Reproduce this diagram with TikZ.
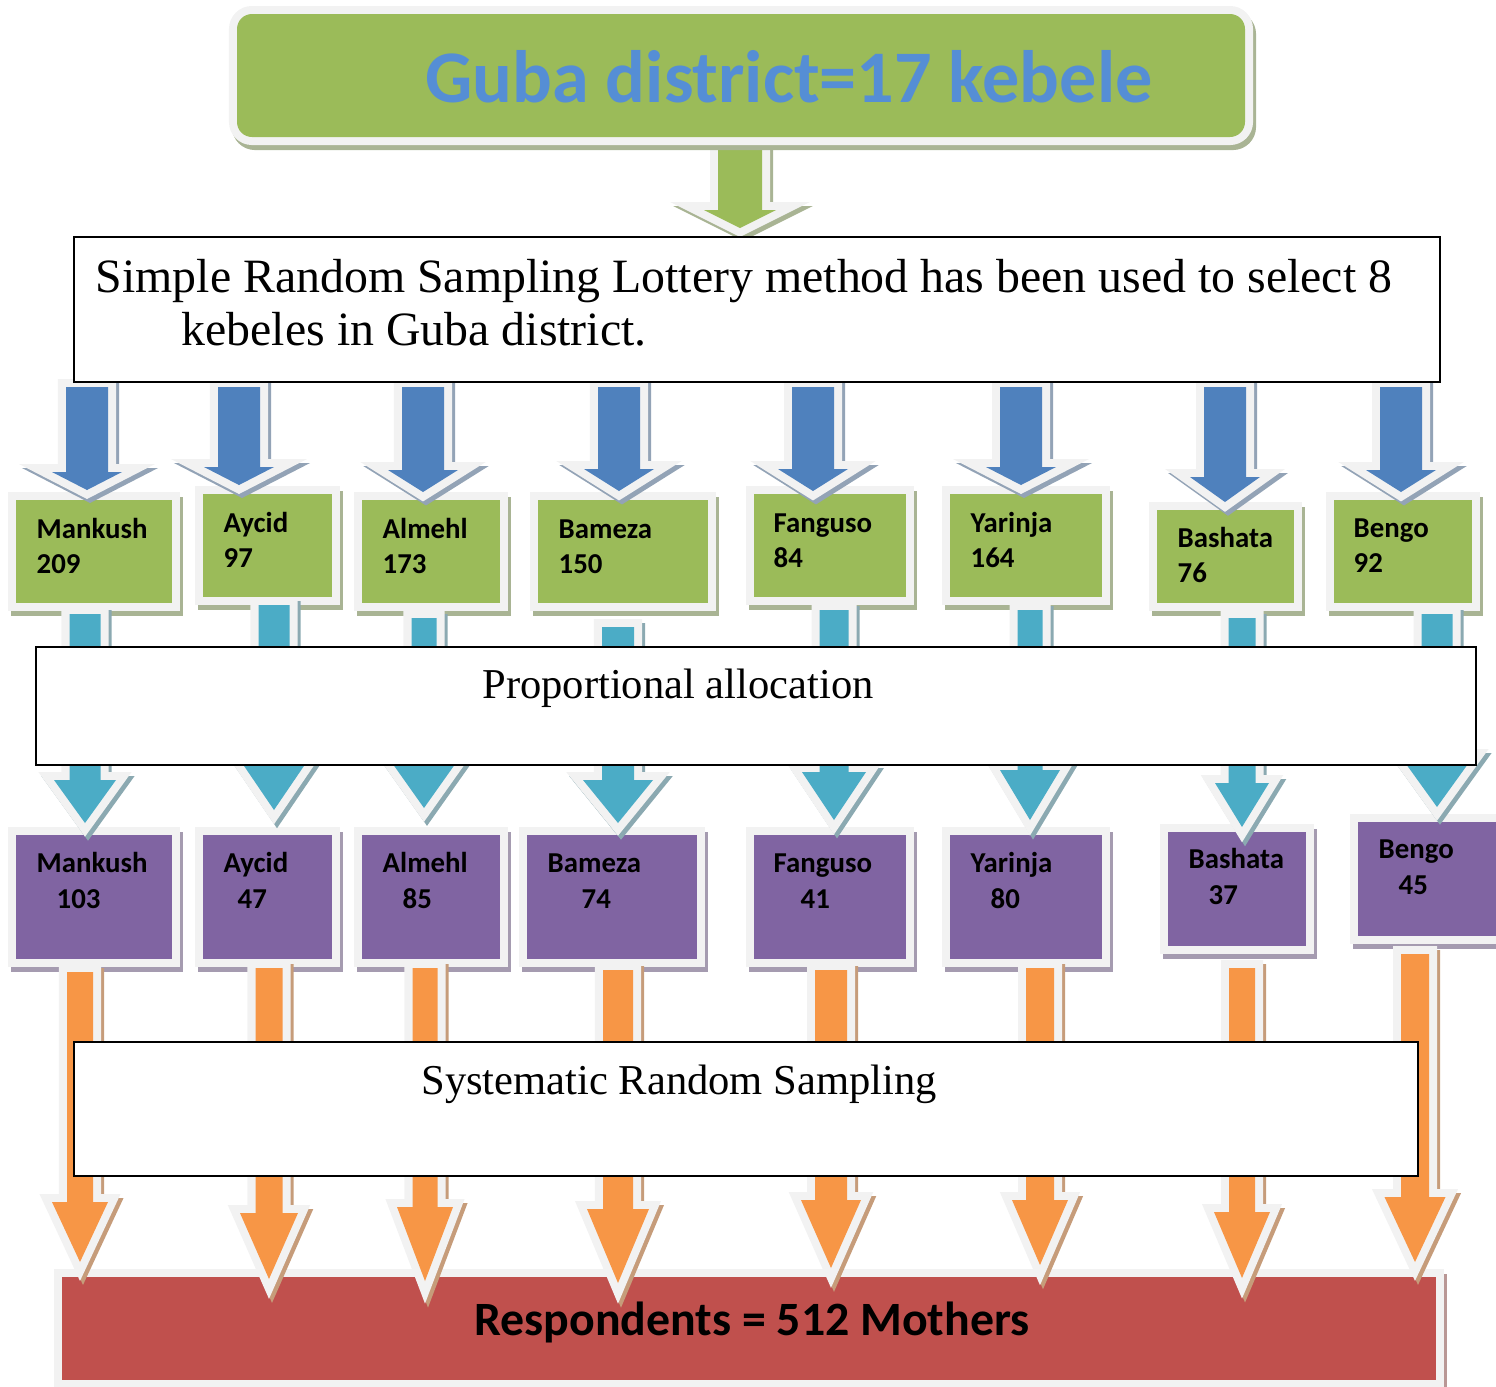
\documentclass[tikz,border=0pt]{standalone}
\usepackage{fontspec}
\setmainfont{Liberation Serif}
\newfontfamily\calib{Carlito}
\usetikzlibrary{calc,fit}
\definecolor{cgreen}{HTML}{9BBB59}
\definecolor{cblue}{HTML}{4F81BD}
\definecolor{ccyan}{HTML}{4BACC6}
\definecolor{cpurple}{HTML}{8064A2}
\definecolor{corange}{HTML}{F79646}
\definecolor{cred}{HTML}{C0504D}
\definecolor{ctitle}{HTML}{558ED5}
\definecolor{glow}{HTML}{F2F2F2}
\definecolor{sgreen}{HTML}{A9B494}
\definecolor{sblue}{HTML}{93A3B6}
\definecolor{scyan}{HTML}{8BA9B1}
\definecolor{spurple}{HTML}{A59BB0}
\definecolor{sorange}{HTML}{C69C7A}
\definecolor{sred}{HTML}{B99795}
\pgfdeclarelayer{back}
\pgfdeclarelayer{arr}
\pgfdeclarelayer{front}
\pgfsetlayers{back,main,arr,front}
\tikzset{
  shbox/.style 2 args={inner sep=0pt, outer sep=0pt, fill=#1,
    preaction={fill=#2, draw=#2, line width=0.16cm, transform canvas={shift={(0.03cm,-0.05cm)}}},
    preaction={draw=glow, line width=0.16cm}},
  gbox/.style={shbox={cgreen}{sgreen}},
  pbox/.style={shbox={cpurple}{spurple}},
  rbox/.style={shbox={cred}{sred}},
  tbox/.style={draw=black, fill=white, line width=0.6pt, inner sep=0pt, outer sep=0pt},
  blk/.style 2 args={fill=#1, line join=miter, miter limit=10,
    preaction={fill=#2, draw=#2, line width=0.16cm, line join=miter, miter limit=10, transform canvas={shift={(0.03cm,-0.04cm)}}},
    preaction={draw=glow, line width=0.16cm, line join=miter, miter limit=10}},
  garrow/.style={blk={cgreen}{sgreen}},
  barrow/.style={blk={cblue}{sblue}},
  carrow/.style={blk={ccyan}{scyan}},
  oarrow/.style={blk={corange}{sorange}},
  ktext/.style={font=\calib\bfseries\fontsize{8.2}{10}\selectfont, anchor=base west, inner sep=0pt},
  stext/.style={font=\fontsize{13.6}{16}\selectfont, anchor=base west, inner sep=0pt},
  ctext/.style={font=\fontsize{12.1}{14}\selectfont, anchor=base, inner sep=0pt},
}
% block arrow: style, x, source node, target node, top gap, tip rise, shaft half, head half, head length (all px)
\newcommand\barw[9]{%
  \path[#1]
    ($(#2,0 |- #3.south)+(-#7,#5)$) --
    ($(#2,0 |- #4.north)+(-#7,{-(#6)-(#9)})$) --
    ($(#2,0 |- #4.north)+(-#8,{-(#6)-(#9)})$) --
    ($(#2,0 |- #4.north)+(0,{-(#6)})$) --
    ($(#2,0 |- #4.north)+(#8,{-(#6)-(#9)})$) --
    ($(#2,0 |- #4.north)+(#7,{-(#6)-(#9)})$) --
    ($(#2,0 |- #3.south)+(#7,#5)$) -- cycle;}
\begin{document}
\begin{tikzpicture}[x=0.01cm,y=-0.01cm]
\useasboundingbox (0,0) rectangle (1496,1387);
% ---------- boxes (main layer)
\node[shbox={cgreen}{sgreen}, rounded corners=0.15cm, fit={(237,14) (1245,137)}] (title) {};
\node[font=\calib\bfseries\fontsize{21.1}{25}\selectfont, text=ctitle, anchor=base, inner sep=0pt] (titletext) at (789,102) {Guba district=17 kebele};
\foreach \n/\xa/\ya/\xb/\yb/\tx/\ty/\la/\lb in {
  g1/16/500/172/603/36/538/Mankush/209,
  g2/203/494/332/597/223/532/Aycid/97,
  g3/362/500/500/603/382/538/Almehl/173,
  g4/538/500/708/603/558/538/Bameza/150,
  g5/754/494/906/597/773/532/Fanguso/84,
  g6/950/494/1102/597/970/532/Yarinja/164,
  g7/1157/510/1294/603/1177/547/Bashata/76,
  g8/1334/500/1472/603/1353/537/Bengo/92}{
  \node[gbox, fit={(\xa,\ya) (\xb,\yb)}] (\n) {};
  \node[ktext] (\n-a) at (\tx,\ty) {\la};
  \node[ktext] (\n-b) at (\tx,\ty+35) {\lb};
}
\foreach \n/\xa/\ya/\xb/\yb/\tx/\txb/\ty/\la/\lb in {
  p1/16/835/172/959/36/56/872/Mankush/103,
  p2/203/835/332/959/223/237/872/Aycid/47,
  p3/362/835/500/959/382/402/872/Almehl/85,
  p4/527/835/697/959/547/581/872/Bameza/74,
  p5/754/835/906/959/773/800/872/Fanguso/41,
  p6/950/835/1102/959/970/990/872/Yarinja/80,
  p7/1168/832/1306/946/1188/1208/868/Bashata/37,
  p8/1358/822/1496/936/1378/1398/858/Bengo/45}{
  \node[pbox, fit={(\xa,\ya) (\xb,\yb)}] (\n) {};
  \node[ktext] (\n-a) at (\tx,\ty) {\la};
  \node[ktext] (\n-b) at (\txb,\ty+36) {\lb};
}
\node[rbox, fit={(62,1277) (1436,1380)}] (red) {};
\node[font=\calib\bfseries\fontsize{13.6}{16}\selectfont, anchor=base, inner sep=0pt] (redtext) at (752,1335) {Respondents = 512 Mothers};
% ---------- text boxes (front layer)
\begin{pgfonlayer}{front}
\node[tbox, fit={(74,237) (1440,382)}] (t1) {};
\node[stext] (t1a) at (95,292) {Simple Random Sampling Lottery method has been used to select 8};
\node[stext] (t1b) at (181,345) {kebeles in Guba district.};
\node[tbox, fit={(36,647) (1476,765)}] (prop) {};
\node[ctext] (proptext) at (678,698) {Proportional allocation};
\node[tbox, fit={(74,1042) (1418,1176)}] (sys) {};
\node[ctext] (systext) at (679,1094) {Systematic Random Sampling};
\end{pgfonlayer}
% ---------- arrows
\begin{pgfonlayer}{back}
\barw{garrow}{740}{title}{t1}{8}{9}{22}{36}{18}
\end{pgfonlayer}
\begin{pgfonlayer}{arr}
\barw{barrow}{87}{t1}{g1}{5}{10}{21}{35}{18}
\barw{barrow}{239}{t1}{g2}{5}{9}{21}{35}{18}
\barw{barrow}{423}{t1}{g3}{5}{8}{21}{35}{22}
\barw{barrow}{619}{t1}{g4}{5}{9}{21}{35}{22}
\barw{barrow}{813}{t1}{g5}{5}{3}{21}{35}{22}
\barw{barrow}{1021}{t1}{g6}{5}{9}{21}{35}{18}
\barw{barrow}{1225}{t1}{g7}{5}{8}{21}{35}{25}
\barw{barrow}{1401}{t1}{g8}{5}{8}{21}{35}{22}
\barw{carrow}{85}{g1}{p1}{11}{12}{15.5}{31}{43}
\barw{carrow}{274}{g2}{p2}{8}{25}{15.5}{34}{50}
\barw{carrow}{424}{g3}{p3}{15}{27}{12.5}{34}{48}
\barw{carrow}{618}{g4}{p4}{24}{12}{16}{35}{43}
\barw{carrow}{834}{g5}{p5}{13}{15}{14.5}{32}{48}
\barw{carrow}{1030}{g6}{p6}{13}{15}{12.5}{30}{50}
\barw{carrow}{1242}{g7}{p7}{15}{5}{13.5}{27}{44}
\barw{carrow}{1437}{g8}{p8}{11}{15}{15.5}{36}{50}
\barw{oarrow}{80}{p1}{red}{13}{15}{13}{28}{60}
\barw{oarrow}{269}{p2}{red}{9}{-2}{13.5}{29}{66}
\barw{oarrow}{425}{p3}{red}{9}{-4}{12.5}{28}{74}
\barw{oarrow}{618}{p4}{red}{11}{-6}{15}{31}{74}
\barw{oarrow}{831}{p5}{red}{11}{9}{16}{30}{68}
\barw{oarrow}{1040}{p6}{red}{9}{12}{14}{28}{65}
\barw{oarrow}{1242}{p7}{red}{22}{-1}{13}{28}{66}
\barw{oarrow}{1415}{p8}{red}{18}{15}{14}{30.5}{65}
\end{pgfonlayer}
\end{tikzpicture}
\end{document}
